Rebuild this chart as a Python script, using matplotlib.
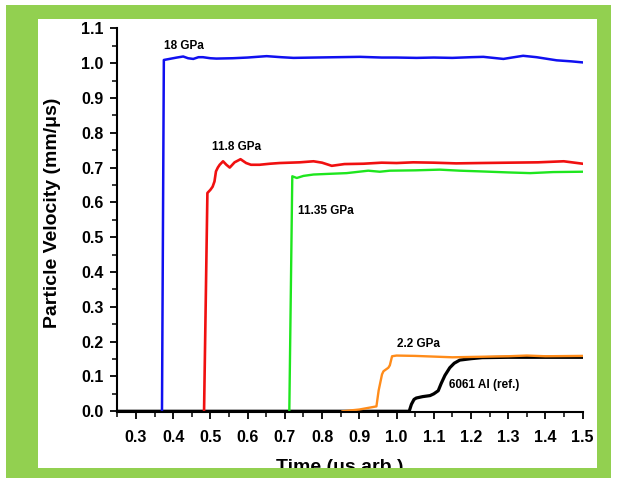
import matplotlib
matplotlib.use("Agg")
import matplotlib.pyplot as plt
from matplotlib.patches import Rectangle
from matplotlib.ticker import MultipleLocator

plt.rcParams['font.family'] = ['Liberation Sans', 'DejaVu Sans']
plt.rcParams['font.weight'] = 'bold'

# 18 GPa
blue_x = [0.370, 0.375, 0.39, 0.41, 0.427, 0.44, 0.454, 0.468, 0.48, 0.50, 0.516, 0.56, 0.60,
          0.651, 0.69, 0.723, 0.78, 0.84, 0.902, 0.96, 1.0, 1.054, 1.10, 1.15, 1.20, 1.233,
          1.26, 1.287, 1.31, 1.34, 1.376, 1.40, 1.43, 1.47, 1.50]
blue_y = [0.0, 1.009, 1.012, 1.016, 1.019, 1.014, 1.012, 1.017, 1.017, 1.014, 1.013, 1.014, 1.016,
          1.020, 1.017, 1.015, 1.016, 1.017, 1.018, 1.016, 1.016, 1.015, 1.016, 1.015, 1.017, 1.018,
          1.015, 1.012, 1.016, 1.021, 1.017, 1.013, 1.008, 1.005, 1.002]

# 11.8 GPa
red_x = [0.483, 0.492, 0.500, 0.506, 0.511, 0.515, 0.52, 0.525, 0.534, 0.543, 0.552, 0.565, 0.581,
         0.596, 0.609, 0.632, 0.66, 0.686, 0.74, 0.777, 0.80, 0.826, 0.86, 0.911, 0.96, 1.0,
         1.045, 1.10, 1.16, 1.225, 1.30, 1.38, 1.449, 1.50]
red_y = [0.0, 0.627, 0.636, 0.645, 0.660, 0.689, 0.700, 0.708, 0.718, 0.708, 0.700, 0.715, 0.724,
         0.713, 0.708, 0.708, 0.711, 0.713, 0.715, 0.718, 0.714, 0.705, 0.710, 0.711, 0.714, 0.713,
         0.715, 0.714, 0.712, 0.713, 0.714, 0.715, 0.718, 0.711]

# 11.35 GPa
green_x = [0.712, 0.720, 0.732, 0.75, 0.777, 0.82, 0.866, 0.924, 0.955, 0.982, 1.05, 1.116,
           1.17, 1.225, 1.30, 1.359, 1.42, 1.50]
green_y = [0.0, 0.675, 0.670, 0.676, 0.680, 0.682, 0.684, 0.691, 0.688, 0.691, 0.692, 0.694,
           0.691, 0.689, 0.686, 0.684, 0.687, 0.688]

# 2.2 GPa
orange_x = [0.855, 0.90, 0.946, 0.952, 0.961, 0.965, 0.978, 0.982, 0.988, 1.0, 1.05, 1.10,
            1.15, 1.20, 1.30, 1.35, 1.40, 1.50]
orange_y = [0.0, 0.005, 0.014, 0.060, 0.106, 0.115, 0.125, 0.132, 0.158, 0.160, 0.159, 0.157,
            0.155, 0.156, 0.158, 0.160, 0.158, 0.159]

# 6061 Al reference
black_x = [0.25, 1.034, 1.04, 1.047, 1.053, 1.07, 1.09, 1.10, 1.112, 1.12, 1.13, 1.143, 1.155,
           1.17, 1.20, 1.23, 1.30, 1.40, 1.50]
black_y = [0.0, 0.0, 0.020, 0.034, 0.038, 0.042, 0.045, 0.050, 0.059, 0.080, 0.103, 0.125, 0.138,
           0.147, 0.151, 0.154, 0.155, 0.155, 0.155]

labels = ["18 GPa", "11.8 GPa", "11.35 GPa", "2.2 GPa", "6061 Al (ref.)"]
label_x = [0.375, 0.505, 0.735, 1.0, 1.14]
label_y = [1.05, 0.759, 0.574, 0.192, 0.074]

green_frame = '#92D050'

fig = plt.figure(figsize=(6.21, 4.82), dpi=100)
fig.patch.set_facecolor('white')
fig.patches.append(Rectangle((0.0097, 0.0083), 0.9742, 0.9813, transform=fig.transFigure,
                             facecolor=green_frame, edgecolor='none', zorder=-2))
fig.patches.append(Rectangle((0.0612, 0.0290), 0.9002, 0.9315, transform=fig.transFigure,
                             facecolor='white', edgecolor='none', zorder=-1))

ax = fig.add_axes([0.1889, 0.1446, 0.7494, 0.7967])
ax.set_facecolor('none')

ax.plot(black_x, black_y, color='black', lw=2.3)
ax.plot(orange_x, orange_y, color='#FF8C1A', lw=1.7)
ax.plot(green_x, green_y, color='#1EE61E', lw=1.7)
ax.plot(red_x, red_y, color='#F01010', lw=1.9)
ax.plot(blue_x, blue_y, color='#1010F0', lw=1.8)

for t, x, y in zip(labels, label_x, label_y):
    ax.text(x, y, t, fontsize=8.5, fontweight='bold', ha='left', va='center')

ax.set_xlim(0.25, 1.5)
ax.set_ylim(-0.003, 1.1)
ax.xaxis.set_major_locator(MultipleLocator(0.1))
ax.xaxis.set_minor_locator(MultipleLocator(0.05))
ax.yaxis.set_major_locator(MultipleLocator(0.1))
ax.yaxis.set_minor_locator(MultipleLocator(0.05))
ax.xaxis.set_major_formatter(plt.FormatStrFormatter('%.1f'))
ax.yaxis.set_major_formatter(plt.FormatStrFormatter('%.1f'))

for s in ['top', 'right']:
    ax.spines[s].set_visible(False)
for s in ['left', 'bottom']:
    ax.spines[s].set_linewidth(1.5)

ax.tick_params(which='major', direction='out', length=5, width=1.3, labelsize=11.5)
ax.tick_params(which='minor', direction='out', length=3.5, width=1.1)
ax.tick_params(axis='y', which='major', pad=5)
ax.tick_params(axis='x', which='major', pad=8)
for lab in ax.get_xticklabels() + ax.get_yticklabels():
    lab.set_fontweight('bold')

fig.text(53 / 621, 1 - 213 / 482, 'Particle Velocity (mm/\u03bcs)', rotation=90, ha='center',
         va='center', fontsize=14, fontweight='bold')

# x label partly hidden behind the frame
fig.text(0.547, 1 - 459 / 482, 'Time (\u03bcs arb.)', ha='center', va='top', fontsize=14,
         fontweight='bold', zorder=1)
fig.patches.append(Rectangle((0.0097, 0.0083), 0.9742, 0.0207, transform=fig.transFigure,
                             facecolor=green_frame, edgecolor='none', zorder=3))

fig.savefig('out.png', dpi=100)
